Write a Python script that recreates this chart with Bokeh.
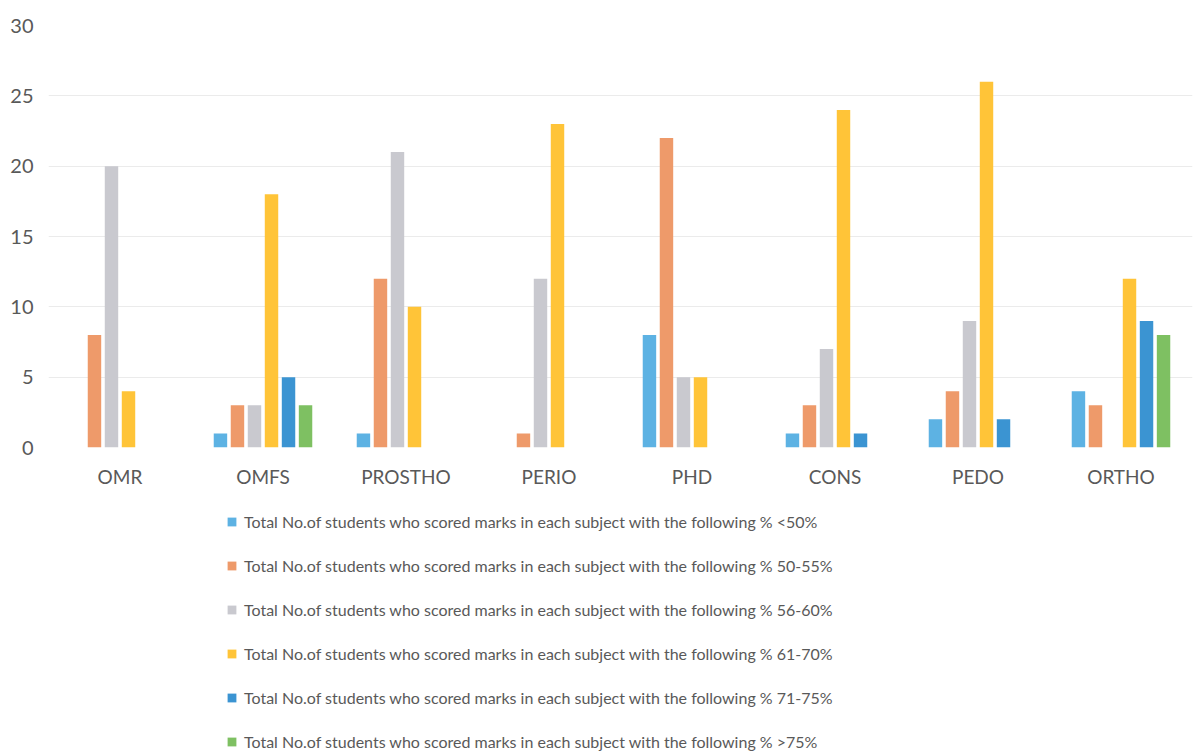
from bokeh.plotting import figure
from bokeh.models import ColumnDataSource, Legend, LegendItem, FactorRange
from bokeh.layouts import column
from bokeh.transform import dodge
from bokeh.embed import file_html
from bokeh.resources import INLINE

subjects = ["OMR", "OMFS", "PROSTHO", "PERIO", "PHD", "CONS", "PEDO", "ORTHO"]
series_names = [
    "Total No.of students who scored marks in each subject with the following % <50%",
    "Total No.of students who scored marks in each subject with the following % 50-55%",
    "Total No.of students who scored marks in each subject with the following % 56-60%",
    "Total No.of students who scored marks in each subject with the following % 61-70%",
    "Total No.of students who scored marks in each subject with the following % 71-75%",
    "Total No.of students who scored marks in each subject with the following % >75%",
]
lt50 = [0, 1, 1, 0, 8, 1, 2, 4]
p50_55 = [8, 3, 12, 1, 22, 3, 4, 3]
p56_60 = [20, 3, 21, 12, 5, 7, 9, 0]
p61_70 = [4, 18, 10, 23, 5, 24, 26, 12]
p71_75 = [0, 5, 0, 0, 0, 1, 2, 9]
gt75 = [0, 3, 0, 0, 0, 0, 0, 8]
colors = ["#5DB2E3", "#EE9A6A", "#C9C9CF", "#FFC438", "#3B94D2", "#7EC062"]

series = [lt50, p50_55, p56_60, p61_70, p71_75, gt75]
keys = ["s0", "s1", "s2", "s3", "s4", "s5"]
data = {"subject": subjects}
for k, s in zip(keys, series):
    data[k] = s
src = ColumnDataSource(data)

FONT = "Lato"
TXT = "#595959"

p = figure(x_range=FactorRange(*subjects), y_range=(0, 30), width=1198, height=506,
           output_backend="svg", toolbar_location=None,
           min_border_left=48, min_border_right=6, min_border_top=25,
           min_border_bottom=59)
p.frame_height = 422
p.frame_width = 1144
p.outline_line_color = None

step = 0.119
bw = 0.094
for i, (k, c) in enumerate(zip(keys, colors)):
    off = (i - 2.5) * step
    p.vbar(x=dodge("subject", off, range=p.x_range), top=k, width=bw,
           source=src, color=c, line_color=None)

p.xgrid.grid_line_color = None
p.ygrid.grid_line_color = "#ebebeb"
p.ygrid.grid_line_width = 1

for ax in (p.xaxis[0], p.yaxis[0]):
    ax.axis_line_color = None
    ax.major_tick_line_color = None
    ax.minor_tick_line_color = None
    ax.major_label_text_color = TXT
    ax.major_label_text_font = FONT
    ax.major_label_text_font_size = "19px"
p.yaxis[0].major_label_text_font_size = "20px"
p.yaxis[0].ticker = [0, 5, 10, 15, 20, 25, 30]
p.yaxis[0].major_label_standoff = 9
p.xaxis[0].major_label_standoff = 11

# legend panel below the chart
lg = figure(width=1198, height=245, x_range=FactorRange(*subjects), y_range=(0, 30),
            output_backend="svg", toolbar_location=None,
            min_border_left=0, min_border_right=0, min_border_top=0, min_border_bottom=0)
lg.axis.visible = False
lg.grid.visible = False
lg.outline_line_color = None
lg.frame_width = 1198
lg.frame_height = 245
items = []
for k, n, c in zip(keys, series_names, colors):
    r = lg.vbar(x="subject", top=k, width=0.1, source=src, color=c, line_color=None)
    r.visible = False
    items.append(LegendItem(label=n, renderers=[r]))

legend = Legend(items=items, location=(226, 0), orientation="vertical")
legend.label_text_font = FONT
legend.label_text_font_size = "16px"
legend.label_text_color = TXT
legend.glyph_width = 11
legend.glyph_height = 11
legend.label_height = 20
legend.spacing = 24
legend.label_standoff = 7
legend.border_line_color = None
legend.background_fill_alpha = 0
legend.inactive_fill_alpha = 0
legend.padding = 0
legend.margin = 0
lg.add_layout(legend, "center")

page = column(p, lg, spacing=0)
open("out.html", "w").write(file_html(page, INLINE))
